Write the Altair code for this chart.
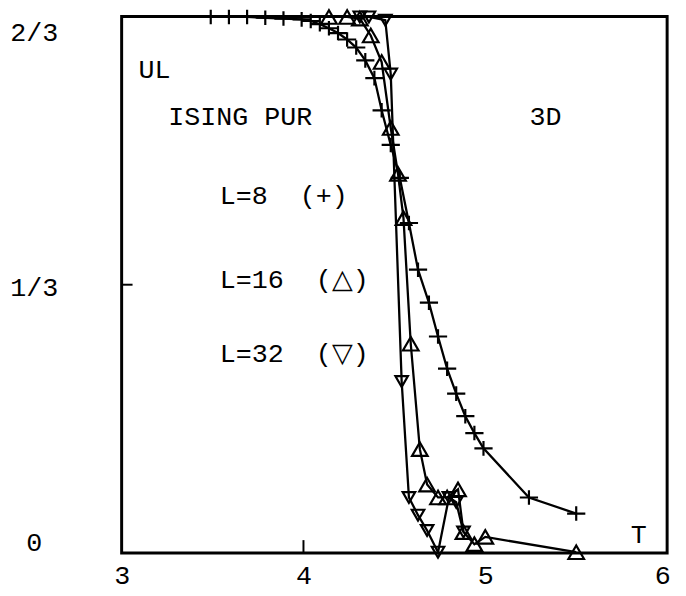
import altair as alt
import pandas as pd

# L=8 (+)
T8 = [3.49, 3.59, 3.69, 3.79, 3.89, 3.99, 4.04, 4.09, 4.14, 4.19, 4.24, 4.29, 4.34, 4.39, 4.43,
      4.48, 4.53, 4.58, 4.63, 4.69, 4.74, 4.79, 4.84, 4.89, 4.94, 4.99, 5.24, 5.50]
U8 = [0.666, 0.666, 0.666, 0.665, 0.664, 0.663, 0.661, 0.657, 0.652, 0.646, 0.638, 0.628, 0.612, 0.590, 0.550,
      0.507, 0.466, 0.410, 0.352, 0.311, 0.269, 0.229, 0.198, 0.170, 0.149, 0.130, 0.069, 0.049]
# L=16 (triangle up)
T16 = [4.14, 4.24, 4.31, 4.37, 4.43, 4.48, 4.52, 4.55, 4.59, 4.64, 4.68, 4.74, 4.79, 4.85, 4.88, 4.94, 5.00, 5.50]
U16 = [0.666, 0.666, 0.664, 0.643, 0.610, 0.528, 0.471, 0.416, 0.260, 0.129, 0.085, 0.069, 0.069, 0.079, 0.026, 0.011, 0.020, 0.001]
# L=32 (triangle down)
T32 = [4.31, 4.36, 4.45, 4.48, 4.54, 4.58, 4.63, 4.68, 4.74, 4.80, 4.84, 4.88]
U32 = [0.666, 0.666, 0.662, 0.595, 0.213, 0.069, 0.047, 0.028, 0.001, 0.069, 0.063, 0.026]

series = ["L=8", "L=16", "L=32"]
x_ticks = [3, 4, 5, 6]
y_ticks = [0, 1 / 3, 2 / 3]

NB = "\u00a0"
notes = ["UL", "ISING" + NB + "PUR", "3D", "L=8" + NB + NB + "(+)", "L=16" + NB + NB + "(\u25b3)",
         "L=32" + NB + NB + "(\u25bd)", "T"]
note_T = [3.093, 3.256, 5.243, 3.539, 3.539, 3.539, 5.80]
note_U = [0.600, 0.542, 0.542, 0.444, 0.339, 0.247, 0.022]

rows = []
for name, ts, us in zip(series, [T8, T16, T32], [U8, U16, U32]):
    for i, (t, u) in enumerate(zip(ts, us)):
        rows.append({"series": name, "T": t, "U": u, "order": i})
df = pd.DataFrame(rows)
notes_df = pd.DataFrame({"text": notes, "T": note_T, "U": note_U})

FONT = "Liberation Mono"
FS = 27
xs = alt.Scale(domain=[3, 6], nice=False, zero=False)
ys = alt.Scale(domain=[0, 2 / 3], nice=False, zero=False)

plus_path = "M-1,0L1,0M0,-0.8L0,0.8"

xax = alt.Axis(values=x_ticks, format="d", title=None, ticks=False, domain=False, grid=False,
               labelFont=FONT, labelFontSize=FS, labelColor="black", labelPadding=10,
               labelFlush=False,
               labelOffset={"condition": {"test": "datum.value == 6", "value": -5}, "value": 0})
yax = alt.Axis(values=y_ticks, title=None, ticks=False, domain=False, grid=False,
               labelFont=FONT, labelFontSize=FS, labelColor="black", labelPadding=89,
               labelAlign="center", labelFlush=True, labelOffset=3,
               labelExpr="datum.value < 0.1 ? '0' : (datum.value < 0.5 ? '1/3' : '2/3')")

base = alt.Chart(df)
lines = base.mark_line(color="black", strokeWidth=2.3).encode(
    x=alt.X("T:Q", scale=xs, axis=xax),
    y=alt.Y("U:Q", scale=ys, axis=yax),
    detail="series:N",
    order="order:Q",
)
points = base.mark_point(filled=False, color="black", strokeWidth=2.2, opacity=1).encode(
    x=alt.X("T:Q", scale=xs),
    y=alt.Y("U:Q", scale=ys),
    shape=alt.Shape("series:N", scale=alt.Scale(domain=series, range=[plus_path, "triangle-up", "triangle-down"]), legend=None),
    size=alt.Size("series:N", scale=alt.Scale(domain=series, range=[340, 160, 160]), legend=None),
)

xtick_df = pd.DataFrame({"T": [4], "U": [0.0], "U2": [0.016]})
ytick_df = pd.DataFrame({"T": [3.0], "T2": [3.06], "U": [1 / 3]})
xtick = alt.Chart(xtick_df).mark_rule(color="black", strokeWidth=2).encode(
    x=alt.X("T:Q", scale=xs), y=alt.Y("U:Q", scale=ys), y2="U2:Q")
ytick = alt.Chart(ytick_df).mark_rule(color="black", strokeWidth=2).encode(
    x=alt.X("T:Q", scale=xs), x2="T2:Q", y=alt.Y("U:Q", scale=ys))

texts = alt.Chart(notes_df).mark_text(align="left", baseline="middle", font=FONT, fontSize=FS, color="black").encode(
    x=alt.X("T:Q", scale=xs), y=alt.Y("U:Q", scale=ys), text="text:N")

chart = alt.layer(lines, points, xtick, ytick, texts).properties(
    width=552, height=543,
    autosize=alt.AutoSizeParams(type="none"),
    padding={"left": 115, "top": 5, "right": 11, "bottom": 40},
    background="white",
).configure_view(stroke="black", strokeWidth=3)

chart.save("out.html", embed_options={"renderer": "svg", "actions": False})
